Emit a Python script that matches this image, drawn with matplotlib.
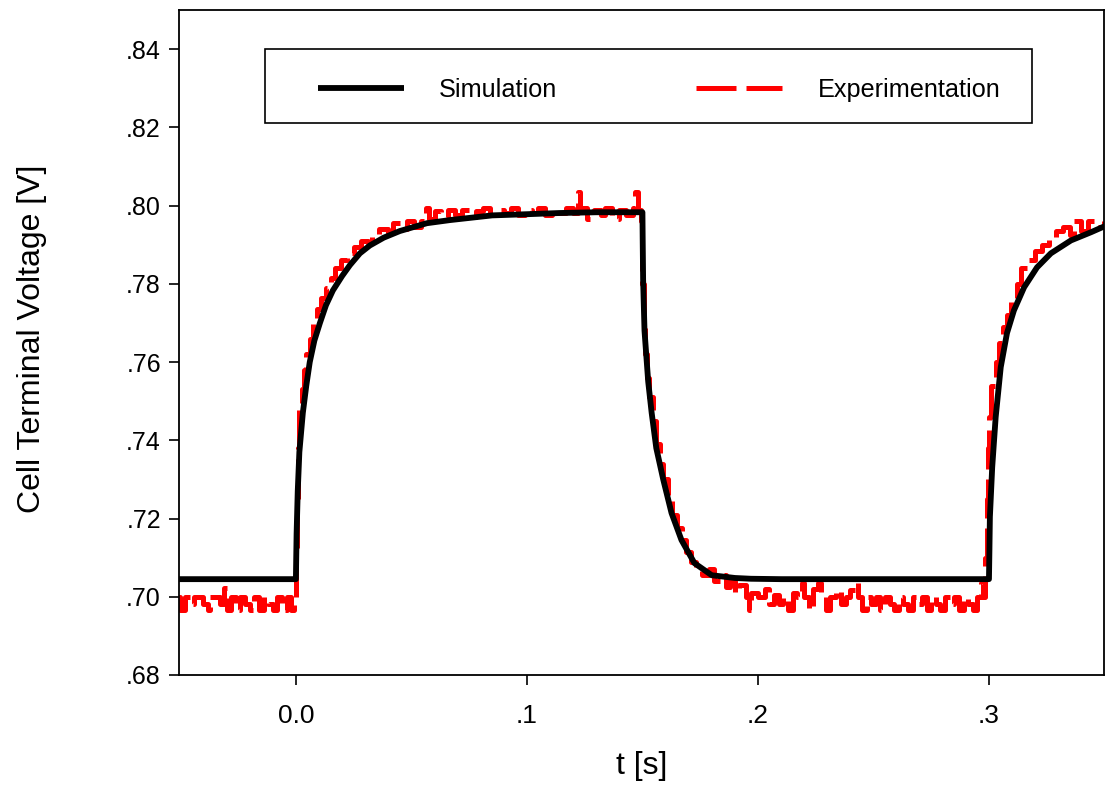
import matplotlib
matplotlib.use("Agg")
import matplotlib.pyplot as plt
from matplotlib.patches import Rectangle

plt.rcParams['font.family'] = ['Liberation Sans', 'DejaVu Sans']

# simulated terminal voltage
sim_t = [-0.051, 0.0, 0.0003, 0.0008, 0.0015, 0.003, 0.0045, 0.006, 0.008,
         0.0104, 0.013, 0.016, 0.020, 0.0234, 0.0277, 0.032, 0.038, 0.045,
         0.0567, 0.0667, 0.085, 0.100, 0.114, 0.130, 0.150,
         0.1501, 0.1503, 0.1509, 0.1525, 0.154, 0.156, 0.159, 0.1626, 0.1669,
         0.1725, 0.180, 0.190, 0.197, 0.210, 0.250, 0.300,
         0.3002, 0.3004, 0.3014, 0.3029, 0.3051, 0.3078, 0.3108, 0.3152,
         0.3208, 0.3268, 0.3355, 0.3442, 0.3511]
sim_v = [0.7045, 0.7045, 0.716, 0.727, 0.737, 0.747, 0.754, 0.760, 0.7655,
         0.770, 0.7745, 0.7783, 0.782, 0.7848, 0.7878, 0.7898, 0.7918, 0.7935,
         0.7955, 0.7963, 0.7975, 0.7978, 0.7981, 0.7983, 0.7983,
         0.792, 0.781, 0.768, 0.755, 0.747, 0.738, 0.730, 0.7214, 0.7145,
         0.7086, 0.7055, 0.7048, 0.7046, 0.7045, 0.7045, 0.7045,
         0.712, 0.7204, 0.7331, 0.7459, 0.7587, 0.7674, 0.7732, 0.7791,
         0.7842, 0.7878, 0.7911, 0.7932, 0.7950]

# measured voltage (sample-and-hold steps): change times and levels
exp_t = [-0.052, -0.050, -0.048, -0.046, -0.044, -0.040, -0.038, -0.037,
         -0.033, -0.031, -0.030, -0.028, -0.026, -0.024, -0.022, -0.020,
         -0.018, -0.016, -0.014, -0.012, -0.010, -0.008, -0.006, -0.004,
         -0.002, -0.001,
         0.0000, 0.0005, 0.0010, 0.0015, 0.0025, 0.0035, 0.0045, 0.0060,
         0.0075, 0.0090, 0.0110, 0.0130, 0.0150, 0.0170, 0.0195, 0.0220,
         0.0250, 0.0280, 0.0310, 0.0330, 0.0360, 0.0400, 0.0420, 0.0450,
         0.0480, 0.0510, 0.0540, 0.0565, 0.0575, 0.0600, 0.0630, 0.0660,
         0.0690, 0.0720, 0.0750, 0.0780, 0.0810, 0.0840, 0.0870, 0.0900,
         0.0930, 0.0960, 0.0990, 0.1020, 0.1050, 0.1080, 0.1110, 0.1140,
         0.1170, 0.1200, 0.1220, 0.1230, 0.1260, 0.1290, 0.1320, 0.1340,
         0.1370, 0.1400, 0.1430, 0.1460, 0.1470, 0.1480, 0.1495,
         0.1500, 0.1505, 0.1510, 0.1520, 0.1530, 0.1545, 0.1560, 0.1575,
         0.1590, 0.1610, 0.1630, 0.1650, 0.1670, 0.1690, 0.1710, 0.1730,
         0.1760, 0.1790, 0.1810, 0.1840, 0.1860, 0.1880, 0.1900, 0.1920,
         0.1950, 0.1960, 0.1970, 0.2000, 0.2030, 0.2050, 0.2070, 0.2090,
         0.2110, 0.2130, 0.2150, 0.2170, 0.2190, 0.2200, 0.2220, 0.2240,
         0.2260, 0.2275, 0.2295, 0.2310, 0.2340, 0.2360, 0.2380, 0.2400,
         0.2425, 0.2435, 0.2450, 0.2470, 0.2490, 0.2510, 0.2530, 0.2550,
         0.2570, 0.2590, 0.2610, 0.2630, 0.2650, 0.2670, 0.2690, 0.2710,
         0.2730, 0.2750, 0.2770, 0.2790, 0.2810, 0.2830, 0.2850, 0.2870,
         0.2890, 0.2910, 0.2930, 0.2950, 0.2965, 0.2975,
         0.2985, 0.2990, 0.2995, 0.3000, 0.3010, 0.3030, 0.3045, 0.3060,
         0.3080, 0.3095, 0.3120, 0.3140, 0.3170, 0.3200, 0.3230, 0.3260,
         0.3290, 0.3320, 0.3350, 0.3370, 0.3400, 0.3430, 0.3460, 0.3500]
exp_v = [0.6999, 0.6965, 0.6999, 0.6982, 0.6999, 0.6982, 0.6965, 0.6999,
         0.6982, 0.7022, 0.6965, 0.6999, 0.6965, 0.6999, 0.6982, 0.6965,
         0.6999, 0.6965, 0.6999, 0.6982, 0.6965, 0.6999, 0.6965, 0.6999,
         0.6965, 0.6999,
         0.7100, 0.7250, 0.7380, 0.7480, 0.7530, 0.7580, 0.7620, 0.7660,
         0.7700, 0.7735, 0.7765, 0.7790, 0.7815, 0.7840, 0.7860, 0.7880,
         0.7895, 0.7910, 0.7905, 0.7925, 0.7940, 0.7930, 0.7955, 0.7940,
         0.7960, 0.7945, 0.7960, 0.7995, 0.7965, 0.7985, 0.7970, 0.7990,
         0.7975, 0.7990, 0.7970, 0.7985, 0.7995, 0.7975, 0.7990, 0.7980,
         0.7995, 0.7975, 0.7990, 0.7980, 0.7995, 0.7975, 0.7990, 0.7980,
         0.7995, 0.7980, 0.8035, 0.7995, 0.7965, 0.7990, 0.7975, 0.7995,
         0.7965, 0.7990, 0.7975, 0.7995, 0.8035, 0.7990, 0.7960,
         0.7800, 0.7700, 0.7620, 0.7560, 0.7510, 0.7450, 0.7390, 0.7340,
         0.7300, 0.7250, 0.7210, 0.7175, 0.7145, 0.7115, 0.7090, 0.7070,
         0.7055, 0.7070, 0.7040, 0.7055, 0.7025, 0.7040, 0.7010, 0.7030,
         0.6999, 0.6966, 0.7010, 0.6999, 0.7020, 0.6982, 0.7005, 0.6982,
         0.6999, 0.6966, 0.7010, 0.6999, 0.7035, 0.6999, 0.6966, 0.7020,
         0.7035, 0.6999, 0.6966, 0.6999, 0.7016, 0.6982, 0.6999, 0.7016,
         0.7035, 0.6999, 0.6966, 0.6999, 0.6982, 0.6999, 0.6966, 0.6999,
         0.6982, 0.6966, 0.6999, 0.6982, 0.6966, 0.6999, 0.6982, 0.6999,
         0.6966, 0.6999, 0.6982, 0.6966, 0.6999, 0.6982, 0.6999, 0.6966,
         0.6999, 0.6982, 0.6966, 0.6999, 0.7035, 0.6999,
         0.7100, 0.7250, 0.7380, 0.7460, 0.7540, 0.7600, 0.7650, 0.7690,
         0.7720, 0.7760, 0.7800, 0.7840, 0.7860, 0.7885, 0.7900, 0.7920,
         0.7935, 0.7945, 0.7925, 0.7960, 0.7935, 0.7960, 0.7945, 0.7960]

x_ticks = [0.0, 0.1, 0.2, 0.3]
x_ticklabels = ['0.0', '.1', '.2', '.3']
y_ticks = [0.68, 0.70, 0.72, 0.74, 0.76, 0.78, 0.80, 0.82, 0.84]
y_ticklabels = ['.68', '.70', '.72', '.74', '.76', '.78', '.80', '.82', '.84']

fig = plt.figure(figsize=(11.07, 7.89), dpi=100)
ax = fig.add_axes([0.1617, 0.1445, 0.8356, 0.8428])

ax.plot(exp_t, exp_v, color='red', lw=3.6, drawstyle='steps-post',
        dashes=(8, 2), label='Experimentation', zorder=2)
ax.plot(sim_t, sim_v, color='black', lw=4.2, label='Simulation', zorder=3,
        solid_capstyle='butt')

ax.set_xlim(-0.0506, 0.3498)
ax.set_ylim(0.68, 0.85)
ax.set_xticks(x_ticks)
ax.set_xticklabels(x_ticklabels, fontsize=19)
ax.set_yticks(y_ticks)
ax.set_yticklabels(y_ticklabels, fontsize=18)
ax.tick_params(direction='out', length=7, width=1.2, pad=6)
ax.tick_params(axis='x', pad=14)
for s in ax.spines.values():
    s.set_linewidth(1.3)

ax.set_xlabel('t [s]', fontsize=23)
ax.xaxis.set_label_coords(0.5, -0.115)
ax.set_ylabel('Cell Terminal Voltage [V]', fontsize=23)
ax.yaxis.set_label_coords(-0.143, 0.505)

# legend frame drawn separately so its padding matches the original
ax.add_patch(Rectangle((0.093, 0.830), 0.829, 0.111, transform=ax.transAxes,
                       facecolor='white', edgecolor='black', lw=1.2, zorder=5))
handles, labels = ax.get_legend_handles_labels()
leg = ax.legend(handles[::-1], labels[::-1], ncol=2, loc='center',
                bbox_to_anchor=(0.519, 0.8797), frameon=False, fontsize=18.2,
                handlelength=3.4, handletextpad=1.4, columnspacing=5.5)
leg.set_zorder(6)

fig.savefig('out.png', dpi=100)
